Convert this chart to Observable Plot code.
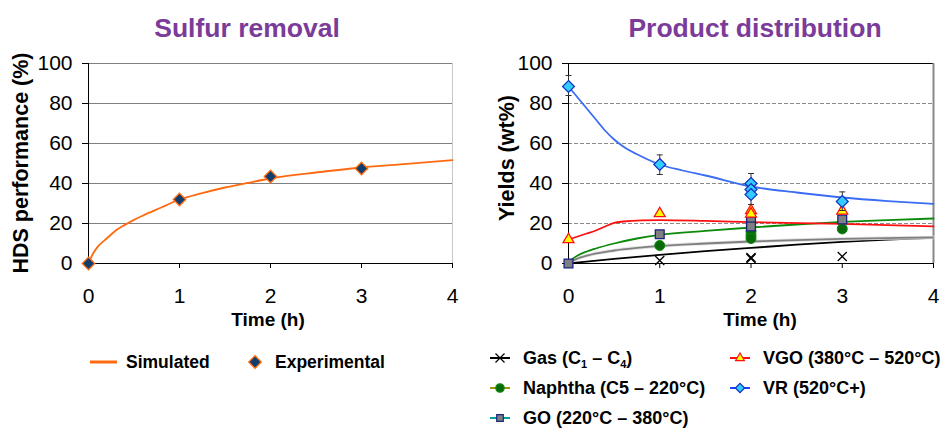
<!DOCTYPE html>
<html>
<head>
<meta charset="utf-8">
<script src="https://cdn.jsdelivr.net/npm/d3@7"></script>
<script src="https://cdn.jsdelivr.net/npm/@observablehq/plot@0.6"></script>
<style>
  body { margin: 0; width: 951px; height: 428px; background: #fff; position: relative; overflow: hidden;
         font-family: "Liberation Sans", Arial, sans-serif; }
  .abs { position: absolute; }
  svg text { font-family: "Liberation Sans", Arial, sans-serif; }
</style>
</head>
<body>
<div id="left" class="abs" style="left:0px;top:45px;"></div>
<div id="right" class="abs" style="left:480px;top:45px;"></div>
<svg id="overlay" class="abs" style="left:0;top:0;pointer-events:none" width="951" height="428"></svg>
<script>
// ---------- data ----------
const xTicks = [0, 1, 2, 3, 4];
const yTicks = [0, 20, 40, 60, 80, 100];
const gridLines = [20, 40, 60, 80, 100];

// Sulfur removal (HDS performance, %)
const hdsSimT = [0, 0.05, 0.1, 0.2, 0.3, 0.4, 0.5, 0.6, 0.8, 1, 1.25, 1.5, 1.75, 2, 2.5, 3, 3.5, 4];
const hdsSimY = [0, 5, 8.3, 12.5, 16.5, 19.3, 21.8, 24, 28, 32, 35.2, 38, 40.3, 42.5, 45.5, 48, 49.8, 51.7];
const hdsExpT = [0, 1, 2, 3];
const hdsExpY = [0, 32, 43.5, 47.5];

// Product distribution simulated curves (wt%)
const gasSimT = [0, 0.5, 1, 1.5, 2, 2.5, 3, 3.5, 4];
const gasSimY = [0, 2.3, 4.3, 6.2, 7.8, 9.4, 10.8, 11.9, 12.8];
const goSimT = [0, 0.05, 0.1, 0.25, 0.5, 0.75, 1, 1.5, 2, 2.5, 3, 3.5, 4];
const goSimY = [0, 1.5, 2.5, 4.5, 6.5, 7.8, 8.8, 10, 11, 11.7, 12.3, 12.7, 13];
const naphSimT = [0, 0.05, 0.1, 0.2, 0.3, 0.5, 0.75, 1, 1.5, 2, 2.5, 3, 3.5, 4];
const naphSimY = [0, 2.5, 4, 6, 7.5, 10, 12.5, 14.3, 16.3, 18, 19.5, 20.8, 21.7, 22.5];
const vgoSimT = [0, 0.1, 0.2, 0.3, 0.4, 0.5, 0.6, 0.8, 1, 1.5, 2, 3, 4];
const vgoSimY = [12, 13.5, 15, 16.5, 18.5, 20.3, 21, 21.6, 21.7, 21.3, 20.7, 19.8, 18.6];
const vrSimT = [0, 0.1, 0.2, 0.3, 0.4, 0.5, 0.6, 0.8, 1, 1.25, 1.5, 2, 2.5, 3, 3.5, 4];
const vrSimY = [88.5, 83, 77.5, 72, 66.5, 62, 58.5, 53.5, 49.5, 46.5, 44, 38.5, 35.5, 33, 31.2, 29.8];

// Product distribution experimental points (wt%)
const gasExpT = [1, 2, 2, 3];
const gasExpY = [1.5, 3, 2.5, 3.5];
const naphExpT = [1, 2, 2, 2, 3];
const naphExpY = [9, 16, 14, 12.5, 17.3];
const goExpT = [0, 1, 2, 2, 3];
const goExpY = [0, 14.6, 21, 18.5, 22];
const vgoExpT = [0, 1, 2, 2, 3];
const vgoExpY = [12, 25, 26.5, 24.8, 26.3];
const vrExpT = [0, 1, 2, 2, 2, 3];
const vrExpY = [88.5, 49.5, 40, 37, 34.5, 31];
const vrErrT = [0, 1, 2, 3];
const vrErrLo = [84, 44.5, 29.5, 26.5];
const vrErrHi = [94, 54.3, 45, 35.8];

// labels
const leftTitle = "Sulfur removal";
const rightTitle = "Product distribution";
const leftYLabel = "HDS performance (%)";
const rightYLabel = "Yields (wt%)";
const xLabel = "Time (h)";
const leftLegend = ["Simulated", "Experimental"];

// ---------- helpers ----------
const zip = (t, y) => t.map((v, i) => ({t: v, y: y[i]}));
const FONT = '"Liberation Sans", Arial, sans-serif';
const capSymbol = {
  draw(ctx, size) {
    const w = Math.sqrt(size) / 2;
    ctx.moveTo(-w, 0); ctx.lineTo(w, 0);
  }
};

const common = {
  height: 300,
  marginLeft: 88, marginRight: 18, marginTop: 18, marginBottom: 82,
  style: {fontFamily: FONT, fontSize: "21px", background: "transparent", overflow: "visible", color: "#000"},
  x: {domain: [0, 4]},
  y: {domain: [0, 100]}
};

// ---------- left chart ----------
const left = Plot.plot({
  ...common,
  width: 470,
  marks: [
    Plot.ruleY(gridLines, {stroke: "#808080", strokeWidth: 1}),
    Plot.ruleX([4], {stroke: "#c8c8c8", strokeWidth: 1}),
    Plot.axisY({ticks: yTicks, tickSize: 6, tickPadding: 10, label: null, tickFormat: d => d, strokeWidth: 1}),
    Plot.axisX({ticks: xTicks, tickSize: 5, tickPadding: 20, label: null, tickFormat: d => d}),
    Plot.ruleX([0], {stroke: "#000"}),
    Plot.ruleY([0], {stroke: "#000"}),
    Plot.line(zip(hdsSimT, hdsSimY), {x: "t", y: "y", stroke: "#ff6a10", strokeWidth: 1.8, curve: "monotone-x"}),
    Plot.dot(zip(hdsExpT, hdsExpY), {x: "t", y: "y", symbol: "diamond2", r: 5.6, fill: "#0f3d6e", stroke: "#ff6a10", strokeWidth: 1.3})
  ]
});
document.getElementById("left").appendChild(left);

// ---------- right chart ----------
const right = Plot.plot({
  ...common,
  width: 471,
  marks: [
    Plot.ruleY(gridLines.filter(d => d < 100), {stroke: "#8a8a8a", strokeWidth: 1, strokeDasharray: "4,2"}),
    Plot.ruleY([100], {stroke: "#000", strokeWidth: 1}),
    Plot.ruleX([4], {stroke: "#888", strokeWidth: 2}),
    Plot.axisY({ticks: yTicks, tickSize: 6, tickPadding: 10, label: null, tickFormat: d => d}),
    Plot.axisX({ticks: xTicks, tickSize: 5, tickPadding: 20, label: null, tickFormat: d => d}),
    Plot.ruleX([0], {stroke: "#000"}),
    Plot.ruleY([0], {stroke: "#000"}),
    // simulated lines
    Plot.line(zip(gasSimT, gasSimY), {x: "t", y: "y", stroke: "#000", strokeWidth: 1.8, curve: "monotone-x"}),
    Plot.line(zip(goSimT, goSimY), {x: "t", y: "y", stroke: "#e2e2e2", strokeWidth: 3.5, curve: "monotone-x"}),
    Plot.line(zip(goSimT, goSimY), {x: "t", y: "y", stroke: "#808080", strokeWidth: 1.8, curve: "monotone-x"}),
    Plot.line(zip(naphSimT, naphSimY), {x: "t", y: "y", stroke: "#0a8a0a", strokeWidth: 1.8, curve: "monotone-x"}),
    Plot.line(zip(vgoSimT, vgoSimY), {x: "t", y: "y", stroke: "#ff1010", strokeWidth: 1.8, curve: "monotone-x"}),
    Plot.line(zip(vrSimT, vrSimY), {x: "t", y: "y", stroke: "#3a6cf4", strokeWidth: 1.8, curve: "monotone-x"}),
    // experimental
    Plot.dot(zip(gasExpT, gasExpY), {x: "t", y: "y", symbol: "times", r: 4.2, stroke: "#000", strokeWidth: 1.3}),
    Plot.dot(zip(naphExpT, naphExpY), {x: "t", y: "y", symbol: "circle", r: 5, fill: "#0a6a0a", stroke: "#0a8a0a", strokeWidth: 1}),
    Plot.dot(zip(goExpT, goExpY), {x: "t", y: "y", symbol: "square2", r: 5.6, fill: "#808080", stroke: "#1a237e", strokeWidth: 1.3}),
    Plot.dot(zip(vgoExpT, vgoExpY), {x: "t", y: "y", symbol: "triangle2", r: 5.2, fill: "#ffff00", stroke: "#ff1010", strokeWidth: 1.3}),
    Plot.ruleX(vrErrT.map((t, i) => ({t, lo: vrErrLo[i], hi: vrErrHi[i]})), {x: "t", y1: "lo", y2: "hi", stroke: "#333", strokeWidth: 1}),
    Plot.dot(vrErrT.map((t, i) => ({t, v: vrErrLo[i]})), {x: "t", y: "v", symbol: capSymbol, r: 3.4, stroke: "#333", strokeWidth: 1}),
    Plot.dot(vrErrT.map((t, i) => ({t, v: vrErrHi[i]})), {x: "t", y: "v", symbol: capSymbol, r: 3.4, stroke: "#333", strokeWidth: 1}),
    Plot.dot(zip(vrExpT, vrExpY), {x: "t", y: "y", symbol: "diamond2", r: 5.4, fill: "#33ccff", stroke: "#1030c0", strokeWidth: 1.2})
  ]
});
document.getElementById("right").appendChild(right);

// ---------- overlay texts & legends ----------
const svg = d3.select("#overlay");
const purple = "#7b3b99";
function txt(x, y, s, opts = {}) {
  const t = svg.append("text").attr("x", x).attr("y", y).text(s)
    .attr("font-size", opts.size || 18).attr("font-weight", opts.weight || "bold")
    .attr("fill", opts.fill || "#000").attr("text-anchor", opts.anchor || "start");
  if (opts.rotate) t.attr("transform", `rotate(-90,${x},${y})`);
  return t;
}
txt(247, 37, leftTitle, {size: 26.5, fill: purple, anchor: "middle"});
txt(755, 37, rightTitle, {size: 26.5, fill: purple, anchor: "middle"});
txt(28, 163, leftYLabel, {size: 21.5, anchor: "middle", rotate: true});
txt(514, 158, rightYLabel, {size: 21.5, anchor: "middle", rotate: true});
txt(268, 326, xLabel, {size: 19, anchor: "middle"});
txt(760, 326, xLabel, {size: 19, anchor: "middle"});

// left legend
svg.append("line").attr("x1", 90).attr("x2", 117).attr("y1", 362).attr("y2", 362).attr("stroke", "#ff6a10").attr("stroke-width", 3);
txt(126, 368, leftLegend[0], {size: 17.5});
svg.append("path").attr("d", d3.symbol(d3.symbolDiamond2, 100)()).attr("transform", "translate(255,362)")
  .attr("fill", "#0f3d6e").attr("stroke", "#ff6a10").attr("stroke-width", 1.3);
txt(275, 368, leftLegend[1], {size: 17.5});

// right legend
function legItem(x, y, lineColor, sym, fill, stroke) {
  svg.append("line").attr("x1", x).attr("x2", x + 20).attr("y1", y).attr("y2", y).attr("stroke", lineColor).attr("stroke-width", 2);
  svg.append("path").attr("d", d3.symbol(sym, 55)()).attr("transform", `translate(${x + 10},${y})`)
    .attr("fill", fill).attr("stroke", stroke).attr("stroke-width", 1.2);
}
legItem(490, 358, "#000", d3.symbolTimes, "none", "#000");
legItem(490, 388, "#9a9a00", d3.symbolCircle, "#0a6a0a", "#0a8a0a");
legItem(490, 418, "#00a0a0", d3.symbolSquare2, "#808080", "#1a237e");
legItem(730, 358, "#ff1010", d3.symbolTriangle2, "#ffff00", "#ff1010");
legItem(730, 388, "#2040ff", d3.symbolDiamond2, "#33ccff", "#1030c0");

const LS = 18;
const gas = txt(523, 364, "Gas (C", {size: LS});
gas.append("tspan").attr("dy", 4).attr("font-size", 11).text("1");
gas.append("tspan").attr("dy", -4).text(" – C");
gas.append("tspan").attr("dy", 4).attr("font-size", 11).text("4");
gas.append("tspan").attr("dy", -4).text(")");
txt(523, 394, "Naphtha (C5 – 220°C)", {size: LS});
txt(523, 424, "GO (220°C – 380°C)", {size: LS});
txt(763, 364, "VGO (380°C – 520°C)", {size: LS});
txt(763, 394, "VR (520°C+)", {size: LS});
</script>
</body>
</html>
